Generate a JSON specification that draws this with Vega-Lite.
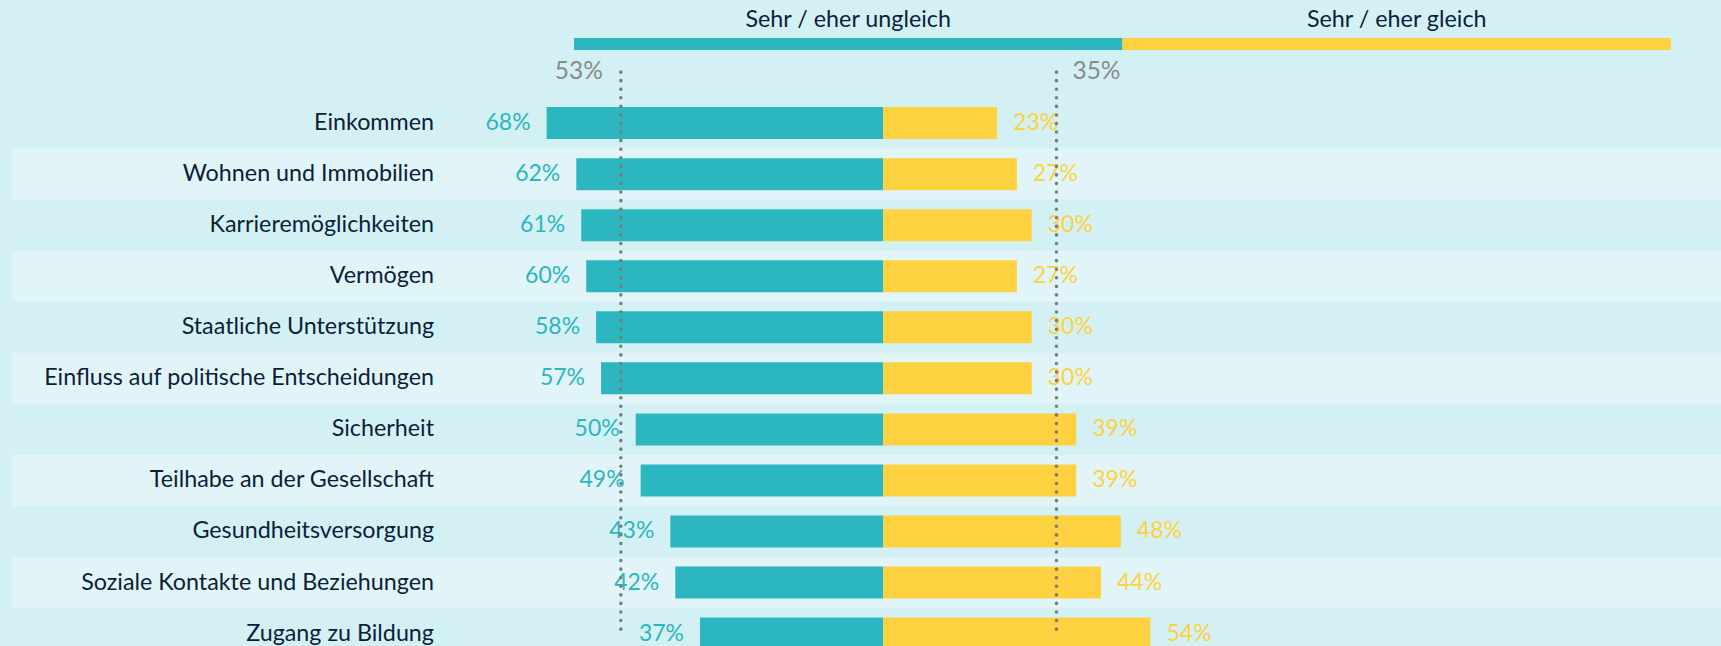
{
  "$schema": "https://vega.github.io/schema/vega-lite/v6.json",
  "width": 1721,
  "height": 646,
  "autosize": {"type": "fit", "contains": "padding"},
  "padding": 0,
  "background": "#d3f1f4",
  "config": {"view": {"stroke": null}, "font": "Lato", "text": {"font": "Lato"}},
  "datasets": {
    "rows": [
      {"cat": "Einkommen", "ungleich": 0.68, "gleich": 0.23},
      {"cat": "Wohnen und Immobilien", "ungleich": 0.62, "gleich": 0.27},
      {"cat": "Karrieremöglichkeiten", "ungleich": 0.61, "gleich": 0.30},
      {"cat": "Vermögen", "ungleich": 0.60, "gleich": 0.27},
      {"cat": "Staatliche Unterstützung", "ungleich": 0.58, "gleich": 0.30},
      {"cat": "Einfluss auf politische Entscheidungen", "ungleich": 0.57, "gleich": 0.30},
      {"cat": "Sicherheit", "ungleich": 0.50, "gleich": 0.39},
      {"cat": "Teilhabe an der Gesellschaft", "ungleich": 0.49, "gleich": 0.39},
      {"cat": "Gesundheitsversorgung", "ungleich": 0.43, "gleich": 0.48},
      {"cat": "Soziale Kontakte und Beziehungen", "ungleich": 0.42, "gleich": 0.44},
      {"cat": "Zugang zu Bildung", "ungleich": 0.37, "gleich": 0.54}
    ],
    "avg": [
      {"side": "ungleich", "value": 0.53},
      {"side": "gleich", "value": 0.35}
    ],
    "hdr": [
      {"side": "Sehr / eher ungleich"},
      {"side": "Sehr / eher gleich"}
    ]
  },
  "layer": [
    {
      "data": {"name": "hdr"},
      "encoding": {
        "x": {"field": "side", "type": "nominal", "sort": null, "axis": null,
              "scale": {"domain": ["Sehr / eher ungleich", "Sehr / eher gleich"], "range": [574, 1671], "paddingInner": 0, "paddingOuter": 0}},
        "y": {"datum": 0, "type": "quantitative", "axis": null, "scale": {"domain": [0, 1], "range": [38, 50], "nice": false, "zero": false}}
      },
      "layer": [
        {
          "mark": {"type": "bar"},
          "encoding": {
            "y2": {"datum": 1},
            "color": {"field": "side", "type": "nominal", "legend": null,
                      "scale": {"domain": ["Sehr / eher ungleich", "Sehr / eher gleich"], "range": ["#2cb6c0", "#fdd13f"]}}
          }
        },
        {
          "mark": {"type": "text", "fontSize": 23.3, "color": "#0c1e3a", "baseline": "alphabetic", "dy": -11},
          "encoding": {"text": {"field": "side"}}
        }
      ]
    },
    {
      "data": {"name": "rows"},
      "encoding": {
        "y": {"field": "cat", "type": "nominal", "sort": null,
              "scale": {"domain": [" ", "Einkommen", "Wohnen und Immobilien", "Karrieremöglichkeiten", "Vermögen", "Staatliche Unterstützung", "Einfluss auf politische Entscheidungen", "Sicherheit", "Teilhabe an der Gesellschaft", "Gesundheitsversorgung", "Soziale Kontakte und Beziehungen", "Zugang zu Bildung"],
                        "range": [46.5, 659.1], "paddingInner": 0, "paddingOuter": 0},
              "axis": {"orient": "left", "offset": -433.5, "domain": false, "ticks": false, "tickSize": 0, "labelPadding": 0,
                       "labelFontSize": 23.3, "labelColor": "#0c1e3a", "labelFont": "Lato", "labelLimit": 0, "title": null, "grid": false}}
      },
      "layer": [
        {
          "transform": [{"filter": {"field": "cat", "oneOf": ["Wohnen und Immobilien", "Vermögen", "Einfluss auf politische Entscheidungen", "Teilhabe an der Gesellschaft", "Soziale Kontakte und Beziehungen"]}}],
          "mark": {"type": "rect", "color": "#e1f5f8"},
          "encoding": {
            "x": {"datum": -1.76, "type": "quantitative", "axis": null, "scale": {"domain": [-1.7842, 1.6925], "nice": false, "zero": false}},
            "x2": {"datum": 1.6925}
          }
        },
        {
          "mark": {"type": "bar", "color": "#2cb6c0", "size": 32},
          "encoding": {
            "x": {"field": "ungleich", "type": "quantitative", "axis": null, "scale": {"domain": [-1.6925, 1.7842], "reverse": true, "nice": false, "zero": false}},
            "x2": {"datum": 0}
          }
        },
        {
          "mark": {"type": "text", "color": "#2cb6c0", "fontSize": 23, "align": "right", "baseline": "middle", "dx": -16},
          "encoding": {
            "x": {"field": "ungleich", "type": "quantitative", "axis": null, "scale": {"domain": [-1.6925, 1.7842], "reverse": true, "nice": false, "zero": false}},
            "text": {"field": "ungleich", "format": ".0%"}
          }
        },
        {
          "mark": {"type": "bar", "color": "#fdd13f", "size": 32},
          "encoding": {
            "x": {"field": "gleich", "type": "quantitative", "axis": null, "scale": {"domain": [-1.7842, 1.6925], "nice": false, "zero": false}},
            "x2": {"datum": 0}
          }
        },
        {
          "mark": {"type": "text", "color": "#fdd13f", "fontSize": 23, "align": "left", "baseline": "middle", "dx": 16},
          "encoding": {
            "x": {"field": "gleich", "type": "quantitative", "axis": null, "scale": {"domain": [-1.7842, 1.6925], "nice": false, "zero": false}},
            "text": {"field": "gleich", "format": ".0%"}
          }
        },
        {
          "data": {"name": "avg"},
          "transform": [{"filter": {"field": "side", "equal": "ungleich"}}],
          "mark": {"type": "rule", "color": "#7b7b7b", "strokeWidth": 3.5, "strokeCap": "round", "strokeDash": [0.1, 8.47]},
          "encoding": {
            "x": {"field": "value", "type": "quantitative", "axis": null, "scale": {"domain": [-1.6925, 1.7842], "reverse": true, "nice": false, "zero": false}},
            "y": {"datum": " ", "type": "nominal"},
            "y2": {"datum": "Zugang zu Bildung"}
          }
        },
        {
          "data": {"name": "avg"},
          "transform": [{"filter": {"field": "side", "equal": "ungleich"}}],
          "mark": {"type": "text", "color": "#8a8a8a", "fontSize": 24.5, "align": "right", "baseline": "middle", "dx": -18},
          "encoding": {
            "x": {"field": "value", "type": "quantitative", "axis": null, "scale": {"domain": [-1.6925, 1.7842], "reverse": true, "nice": false, "zero": false}},
            "y": {"datum": " ", "type": "nominal"},
            "text": {"field": "value", "format": ".0%"}
          }
        },
        {
          "data": {"name": "avg"},
          "transform": [{"filter": {"field": "side", "equal": "gleich"}}],
          "mark": {"type": "rule", "color": "#7b7b7b", "strokeWidth": 3.5, "strokeCap": "round", "strokeDash": [0.1, 8.47]},
          "encoding": {
            "x": {"field": "value", "type": "quantitative", "axis": null, "scale": {"domain": [-1.7842, 1.6925], "nice": false, "zero": false}},
            "y": {"datum": " ", "type": "nominal"},
            "y2": {"datum": "Zugang zu Bildung"}
          }
        },
        {
          "data": {"name": "avg"},
          "transform": [{"filter": {"field": "side", "equal": "gleich"}}],
          "mark": {"type": "text", "color": "#8a8a8a", "fontSize": 24.5, "align": "left", "baseline": "middle", "dx": 16},
          "encoding": {
            "x": {"field": "value", "type": "quantitative", "axis": null, "scale": {"domain": [-1.7842, 1.6925], "nice": false, "zero": false}},
            "y": {"datum": " ", "type": "nominal"},
            "text": {"field": "value", "format": ".0%"}
          }
        }
      ],
      "resolve": {"scale": {"x": "independent"}}
    }
  ],
  "resolve": {"scale": {"x": "independent", "y": "independent"}}
}
